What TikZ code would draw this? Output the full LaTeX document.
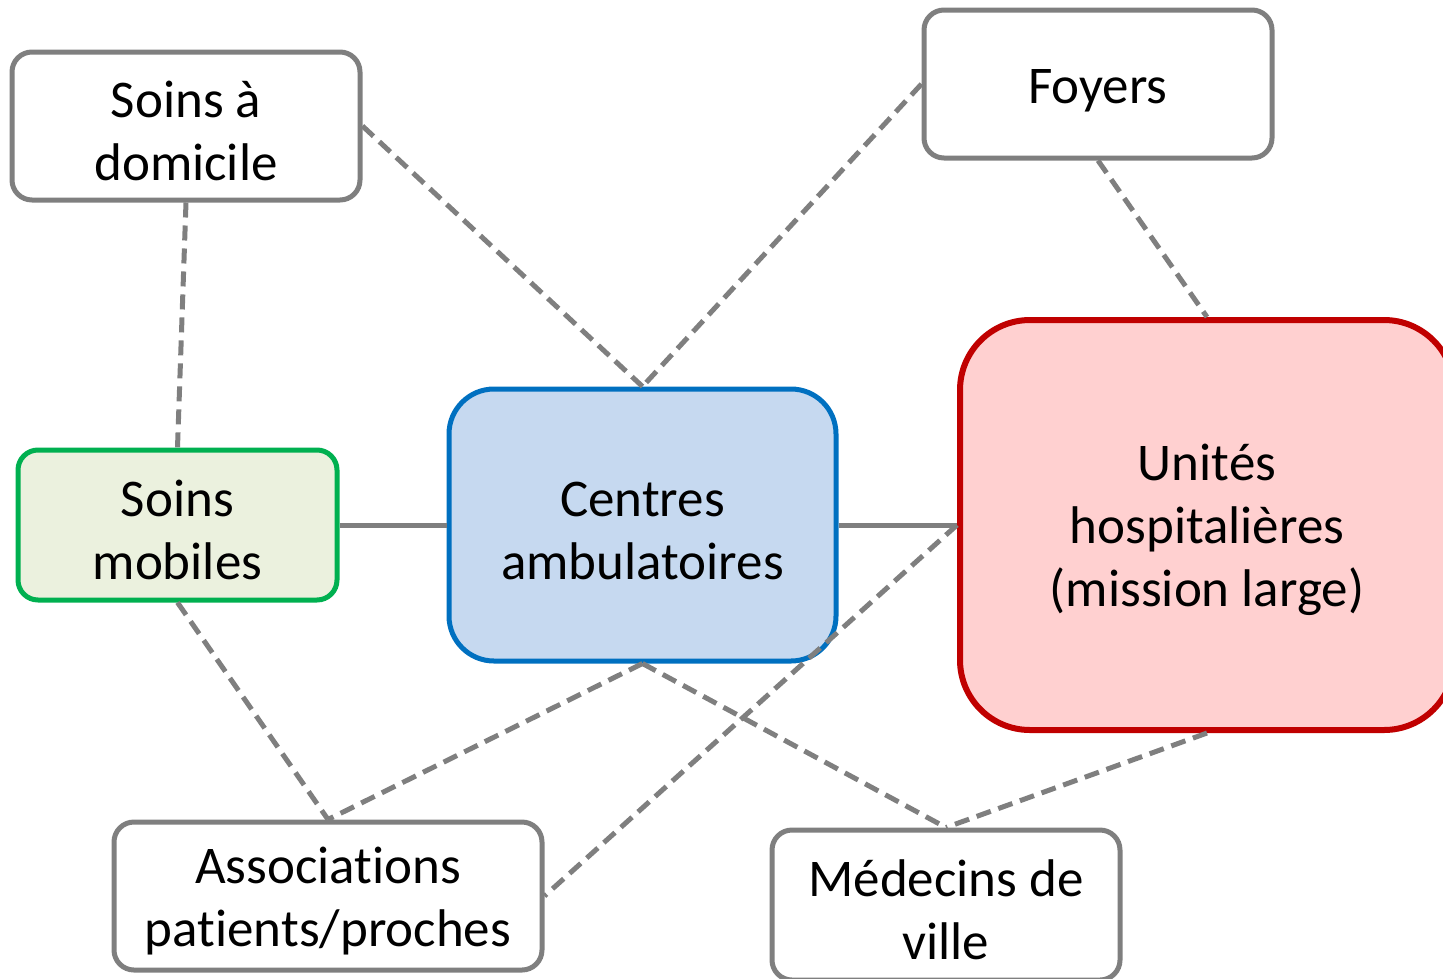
\documentclass[tikz,border=0pt]{standalone}
\usepackage{fontspec}
\setmainfont{Carlito}[Ligatures=NoCommon]
\definecolor{lgray}{HTML}{7F7F7F}
\definecolor{bgreen}{HTML}{00B050}
\definecolor{fgreen}{HTML}{EBF1DE}
\definecolor{bblue}{HTML}{0070C0}
\definecolor{fblue}{HTML}{C6D9F0}
\definecolor{bred}{HTML}{C00000}
\definecolor{fred}{HTML}{FFD0D0}
\newcommand\myfirst{\rule{0pt}{46pt}}
\begin{document}
\begin{tikzpicture}[x=1pt,y=-1pt,
  box/.style={rectangle,rounded corners=20pt,draw=lgray,line width=5pt,fill=white,
    inner sep=0pt,align=center,font=\fontsize{53}{63}\selectfont},
  single/.style={execute at begin node={\rule{0pt}{48pt}},
    execute at end node={\rule[-7pt]{0pt}{7pt}}},
  link/.style={draw=lgray,line width=5pt,dash pattern=on 15pt off 8pt},
  solidlink/.style={draw=lgray,line width=5pt}]
\useasboundingbox (0,0) rectangle (1443,978);
\clip (0,0) rectangle (1443,978);
\node[box,minimum width=348pt,minimum height=148pt] (dom) at (186,126) {\myfirst Soins à\\domicile};
\node[box,single,minimum width=348pt,minimum height=148pt] (foy) at (1098,84) {Foyers};
\node[box,draw=bgreen,fill=fgreen,minimum width=319pt,minimum height=150pt] (mob) at (177.5,525) {\myfirst Soins\\mobiles};
\node[box,draw=bblue,fill=fblue,rounded corners=45pt,minimum width=387pt,minimum height=272pt] (amb) at (642.5,525) {\myfirst Centres\\ambulatoires};
\node[box,draw=bred,fill=fred,line width=6pt,rounded corners=70pt,minimum width=494pt,minimum height=410pt] (hop) at (1207,525) {\myfirst Unités\\hospitalières\\(mission large)};
\node[box,minimum width=428pt,minimum height=148pt] (ass) at (328,896) {\myfirst Associations\\patients/proches};
\node[box,minimum width=348pt,minimum height=150pt] (med) at (946,905) {\myfirst Médecins de\\ville};
\path[link] (dom.south) -- (mob.north);
\path[link] (dom.east) -- (amb.north);
\path[link] (foy.west) -- (amb.north);
\path[link] (foy.south) -- (hop.north);
\path[solidlink] (mob.east) -- (amb.west);
\path[solidlink] (amb.east) -- (hop.west);
\path[link] (mob.south) -- (ass.north);
\path[link] (amb.south) -- (ass.north);
\path[link] (hop.west) -- (ass.east);
\path[link] (amb.south) -- (med.north);
\path[link] (hop.south) -- (med.north);
\end{tikzpicture}
\end{document}
